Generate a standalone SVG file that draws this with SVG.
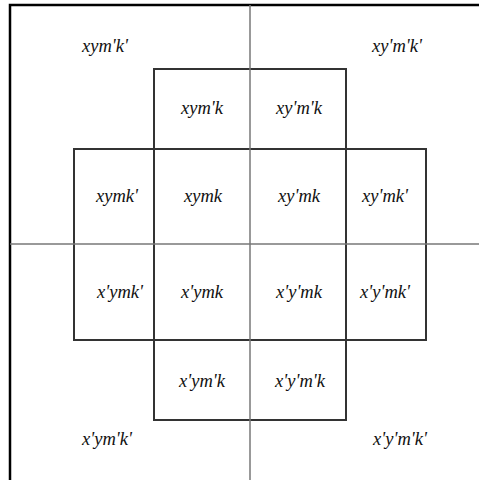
<svg xmlns="http://www.w3.org/2000/svg" width="479" height="480" viewBox="0 0 479 480">
<style>
.t{font-family:"Liberation Serif","DejaVu Serif",serif;font-style:italic;font-size:18.5px;fill:#111;text-anchor:middle}
.axis{stroke:#777;stroke-width:1.5;fill:none}
.box{stroke:#333;stroke-width:2;fill:none}
.frame{stroke:#000;stroke-width:2.5;fill:none}
</style>
<rect width="479" height="480" fill="#fff"/>
<g id="connectors">
<path class="frame" d="M10,480 V5 H479"/>
<path class="box" d="M154,69 H346 V420 H154 Z"/>
<path class="box" d="M74,149 H426 V340 H74 Z"/>
<line class="axis" x1="250" y1="5" x2="250" y2="480"/>
<line class="axis" x1="10" y1="244" x2="479" y2="244"/>
</g>
<g id="n1"><text class="t" x="105" y="52">xym'k'</text></g>
<g id="n2"><text class="t" x="397" y="52">xy'm'k'</text></g>
<g id="n3"><text class="t" x="202" y="114">xym'k</text></g>
<g id="n4"><text class="t" x="299" y="114">xy'm'k</text></g>
<g id="n5"><text class="t" x="117" y="202">xymk'</text></g>
<g id="n6"><text class="t" x="203" y="202">xymk</text></g>
<g id="n7"><text class="t" x="299" y="202">xy'mk</text></g>
<g id="n8"><text class="t" x="385" y="202">xy'mk'</text></g>
<g id="n9"><text class="t" x="120" y="298">x'ymk'</text></g>
<g id="n10"><text class="t" x="202" y="298">x'ymk</text></g>
<g id="n11"><text class="t" x="299" y="298">x'y'mk</text></g>
<g id="n12"><text class="t" x="385" y="298">x'y'mk'</text></g>
<g id="n13"><text class="t" x="202" y="387">x'ym'k</text></g>
<g id="n14"><text class="t" x="300" y="387">x'y'm'k</text></g>
<g id="n15"><text class="t" x="107" y="445">x'ym'k'</text></g>
<g id="n16"><text class="t" x="400" y="445">x'y'm'k'</text></g>
</svg>
